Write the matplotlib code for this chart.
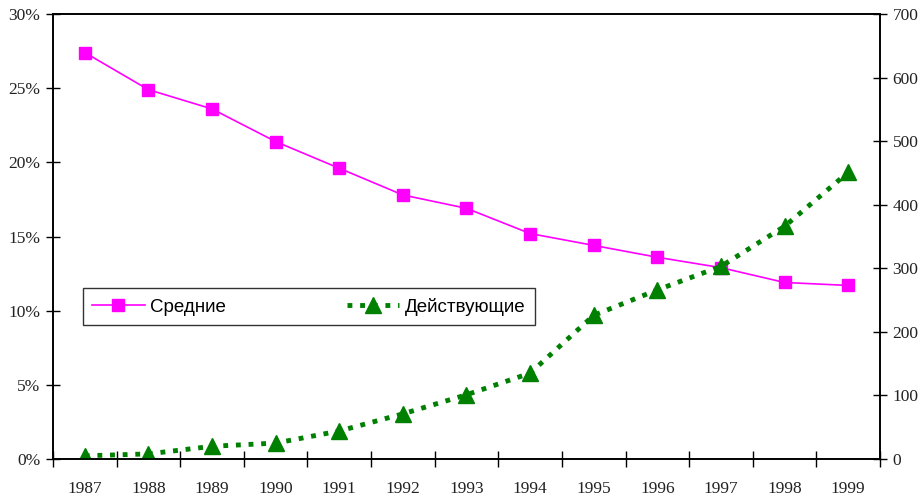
import matplotlib.pyplot as plt
from matplotlib.ticker import FuncFormatter, FixedLocator, NullFormatter

# Данные
years = [1987, 1988, 1989, 1990, 1991, 1992, 1993, 1994, 1995, 1996, 1997, 1998, 1999]
srednie = [27.4, 24.9, 23.6, 21.4, 19.6, 17.8, 16.9, 15.2, 14.4, 13.6, 12.9, 11.9, 11.7]
deystv = [5, 8, 20, 25, 44, 71, 101, 135, 226, 266, 303, 366, 451]

serif = "Liberation Serif"
sans = "Liberation Sans"

fig = plt.figure(figsize=(9.18, 5.04), dpi=100)
ax = fig.add_axes([0.0577, 0.0893, 0.9009, 0.8829])
ax2 = ax.twinx()

x = list(range(len(years)))

l1, = ax.plot(x, srednie, color="#ff00ff", lw=1.2, marker="s", markersize=9,
              markerfacecolor="#ff00ff", markeredgecolor="#ff00ff", label="Средние")
l2, = ax2.plot(x, deystv, color="#008000", lw=3.5, linestyle=(0, (1, 1.6)),
               marker="^", markersize=12, markerfacecolor="#008000",
               markeredgecolor="#008000", label="Действующие")

ax.set_xlim(-0.5, len(years) - 0.5)
ax.set_ylim(0, 30)
ax2.set_ylim(0, 700)

ax.set_yticks(range(0, 31, 5))
ax.yaxis.set_major_formatter(FuncFormatter(lambda v, p: f"{int(v)}%"))
ax2.set_yticks(range(0, 701, 100))

# категории: деления между годами, подписи по центру
ax.xaxis.set_major_locator(FixedLocator([i + 0.5 for i in range(-1, len(years))]))
ax.xaxis.set_major_formatter(NullFormatter())
ax.xaxis.set_minor_locator(FixedLocator(x))
ax.set_xticklabels(years, minor=True)
ax.tick_params(axis="x", which="major", direction="inout", length=12, width=1)
ax.tick_params(axis="x", which="minor", length=0, pad=16)

ax.tick_params(axis="y", direction="inout", length=10, width=1, pad=4)
ax2.tick_params(axis="y", direction="inout", length=10, width=1, pad=4)

for a in (ax, ax2):
    for lab in a.get_yticklabels() + a.get_xticklabels(minor=True):
        lab.set_fontfamily(serif)
        lab.set_fontsize(12.5)
        lab.set_color("#222222")
    for s in a.spines.values():
        s.set_linewidth(1.2)

leg = ax.legend(handles=[l1, l2], loc="lower left", ncol=2, mode="expand",
                bbox_to_anchor=(0.036, 0.301, 0.547, 0.086), frameon=True,
                fancybox=False, edgecolor="black", borderaxespad=0,
                prop={"family": sans, "size": 13.5}, handlelength=2.8,
                handletextpad=0.3, borderpad=0.5)
leg.get_frame().set_linewidth(1.0)

plt.savefig("out.png", dpi=100)
plt.close()
